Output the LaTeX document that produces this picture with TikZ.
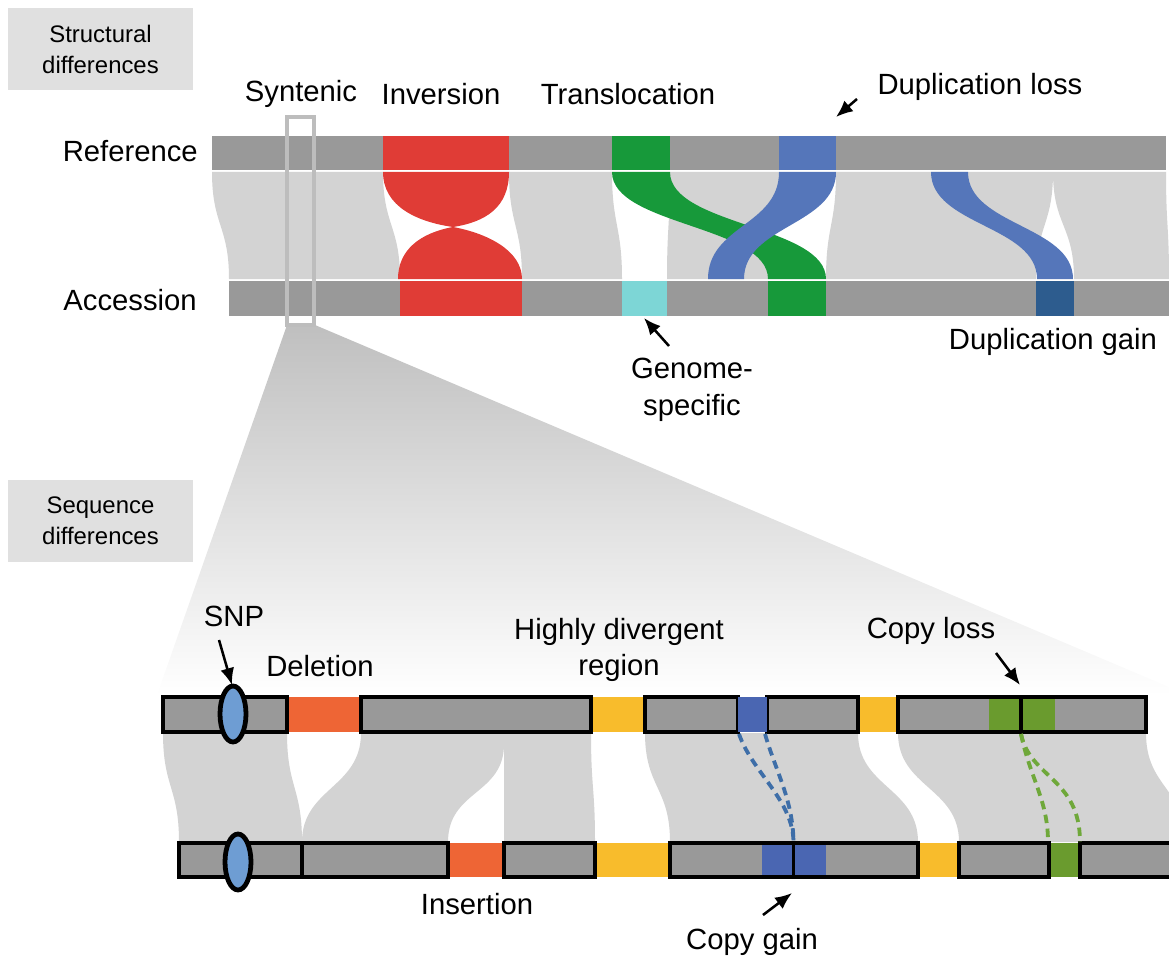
\documentclass[tikz,border=0pt]{standalone}
\usepackage{fontspec}
\setmainfont{Liberation Sans}
\usetikzlibrary{arrows.meta, positioning, calc}
\definecolor{bargray}{HTML}{999999}
\definecolor{linkgray}{HTML}{D3D3D3}
\definecolor{boxgray}{HTML}{E0E0E0}
\definecolor{framegray}{HTML}{BDBDBD}
\definecolor{invred}{HTML}{E03C36}
\definecolor{transgreen}{HTML}{17993A}
\definecolor{dupblue}{HTML}{5576BA}
\definecolor{dupdark}{HTML}{2D5C8E}
\definecolor{specificcyan}{HTML}{7DD6D6}
\definecolor{delorange}{HTML}{EE6535}
\definecolor{divyellow}{HTML}{F8BC2C}
\definecolor{copyblue}{HTML}{4A66B2}
\definecolor{copygreen}{HTML}{6A9B2E}
\definecolor{snpblue}{HTML}{6E9DD3}
\definecolor{dashblue}{HTML}{3E6EA8}
\definecolor{dashgreen}{HTML}{6FA83A}

\newcommand{\synlink}[7][linkgray]{%
  \fill[#1] (#2,#6) .. controls (#2,{(#6+#7)/2}) and (#4,{(#6+#7)/2}) .. (#4,#7)
    -- (#5,#7) .. controls (#5,{(#6+#7)/2}) and (#3,{(#6+#7)/2}) .. (#3,#6) -- cycle;}

\tikzset{
  lbl/.style={font=\fontsize{20.8}{26}\selectfont, align=center, inner sep=0pt},
  panel/.style={fill=boxgray, font=\fontsize{17}{22}\selectfont, align=center,
    minimum width=4.625cm, minimum height=2.05cm, inner sep=0pt},
  seqbox/.style={fill=bargray, draw=black, line width=2.7pt},
  seam/.style={draw=black, line width=2.7pt},
  snp/.style={fill=snpblue, draw=black, line width=3.4pt},
  copydash/.style={line width=2.7pt, dash pattern=on 6pt off 4pt},
  pointer/.style={-{Latex[length=12pt,width=10pt]}, line width=1.8pt}
}

\begin{document}
\begin{tikzpicture}[x=0.025cm, y=-0.025cm, >=Latex]
  \useasboundingbox (0,0) rectangle (1169,958);

  \shade[top color=black!25, bottom color=white]
    (287,325) -- (315,325) -- (1169,687) -- (1169,695) -- (157,695) -- cycle;

  \synlink{212}{383}{229}{400}{172}{279}
  \synlink{509}{612}{522}{622}{172}{279}
  \synlink{670}{779}{667}{768}{172}{279}
  \synlink{836}{1053}{826}{1036}{172}{279}
  \synlink{1053}{1166}{1074}{1169}{172}{279}

  \fill[invred] (383,172) .. controls (383,207) and (418,222) .. (453,227)
    .. controls (420,233) and (398,250) .. (398,279) -- (522,279)
    .. controls (522,250) and (486,233) .. (453,227)
    .. controls (486,222) and (509,207) .. (509,172) -- cycle;
  \synlink[transgreen]{612}{670}{768}{826}{172}{279}
  \synlink[dupblue]{779}{836}{708}{744}{172}{279}
  \synlink[dupblue]{931}{968}{1037}{1073}{172}{279}

  \fill[bargray] (212,136) rectangle (1166,170);
  \foreach \xa/\xb/\col in {383/509/invred, 612/670/transgreen, 779/836/dupblue} {
    \fill[\col] (\xa,136) rectangle (\xb,170);
  }
  \fill[bargray] (229,281) rectangle (1169,316);
  \foreach \xa/\xb/\col in {400/522/invred, 622/667/specificcyan,
    768/826/transgreen, 1036/1074/dupdark} {
    \fill[\col] (\xa,281) rectangle (\xb,316);
  }

  \draw[framegray, line width=2.7pt] (287,117) rectangle (314,325);

  \node[panel] (structural) at (100.5,49) {Structural\\differences};
  \node[panel] (sequence) at (100.5,521) {Sequence\\differences};

  \node[lbl] (syntenic) at (301,94) {Syntenic};
  \node[lbl] (inversion) at (441,94) {Inversion};
  \node[lbl] (translocation) at (628,94) {Translocation};
  \node[lbl] (duploss) at (980,87) {Duplication loss};
  \node[lbl, anchor=east] (reference) at (198,151) {Reference};
  \node[lbl, anchor=east] (accession) at (197,300) {Accession};
  \node[lbl] (dupgain) at (1053,342) {Duplication gain};
  \node[lbl] (specific) at (692,390) {Genome-\\specific};

  \coordinate (duploss-tail) at (857,99);
  \coordinate (duploss-tip) at (836,117);
  \draw[pointer] (duploss-tail) -- (duploss-tip);
  \coordinate (specific-tail) at (669,346);
  \coordinate (specific-tip) at (644,318);
  \draw[pointer] (specific-tail) -- (specific-tip);

  \synlink{163}{287}{179}{302}{733}{842}
  \fill[linkgray] (361,733) -- (591,733) .. controls (591,788) and (595,788) .. (595,842)
    -- (504,842) -- (504,744) .. controls (504,795) and (448,790) .. (448,842)
    -- (302,842) .. controls (302,788) and (361,788) .. (361,733) -- cycle;
  \synlink{645}{858}{670}{918}{733}{842}
  \synlink{898}{1146}{959}{1185}{733}{842}

  \foreach \xa/\xb/\col in {287/361/delorange, 591/645/divyellow, 858/898/divyellow} {
    \fill[\col] (\xa,697) rectangle (\xb,732);
  }
  \foreach \xa/\xb in {163/287, 361/591, 645/738, 767/858, 898/1146} {
    \draw[seqbox] (\xa,697) rectangle (\xb,732);
  }
  \fill[copyblue] (738,697) rectangle (767,732);
  \fill[copygreen] (989,699) rectangle (1055,730);
  \draw[seam] (1021,697) -- (1021,732);

  \foreach \xa/\xb/\col in {448/504/delorange, 595/670/divyellow,
    918/959/divyellow, 1049/1080/copygreen} {
    \fill[\col] (\xa,843) rectangle (\xb,877);
  }
  \foreach \xa/\xb in {179/302, 302/448, 504/595, 670/918, 959/1049, 1080/1174} {
    \draw[seqbox] (\xa,843) rectangle (\xb,877);
  }
  \fill[copyblue] (762,845) rectangle (826,875);
  \draw[seam] (793.5,843) -- (793.5,877);

  \draw[snp] (233,714) ellipse (13 and 28);
  \draw[snp] (238,862) ellipse (13 and 28);

  \coordinate (gain-a) at (739,734);
  \coordinate (gain-b) at (765,734);
  \coordinate (gain-end) at (793.5,842);
  \draw[copydash, dashblue] (gain-a) .. controls (752,772) and (793,800) .. (gain-end);
  \draw[copydash, dashblue] (gain-b) .. controls (776,772) and (793,800) .. (gain-end);
  \coordinate (loss-start) at (1021,734);
  \coordinate (loss-a) at (1048,842);
  \coordinate (loss-b) at (1080,842);
  \draw[copydash, dashgreen] (loss-start) .. controls (1030,778) and (1048,800) .. (loss-a);
  \draw[copydash, dashgreen] (loss-start) .. controls (1030,778) and (1080,778) .. (loss-b);

  \node[lbl] (snplbl) at (234,616) {SNP};
  \node[lbl] (deletion) at (320,666) {Deletion};
  \node[lbl, font=\fontsize{20.8}{25}\selectfont] (divergent) at (619,650) {Highly divergent\\region};
  \node[lbl] (copyloss) at (931,631) {Copy loss};
  \node[lbl] (insertion) at (477,904) {Insertion};
  \node[lbl] (copygain) at (752,942) {Copy gain};

  \coordinate (snp-tail) at (219,640);
  \coordinate (snp-tip) at (232,685);
  \draw[pointer] (snp-tail) -- (snp-tip);
  \coordinate (copyloss-tail) at (996,653);
  \coordinate (copyloss-tip) at (1020,685);
  \draw[pointer] (copyloss-tail) -- (copyloss-tip);
  \coordinate (copygain-tail) at (763,915);
  \coordinate (copygain-tip) at (792,893);
  \draw[pointer] (copygain-tail) -- (copygain-tip);
\end{tikzpicture}
\end{document}
